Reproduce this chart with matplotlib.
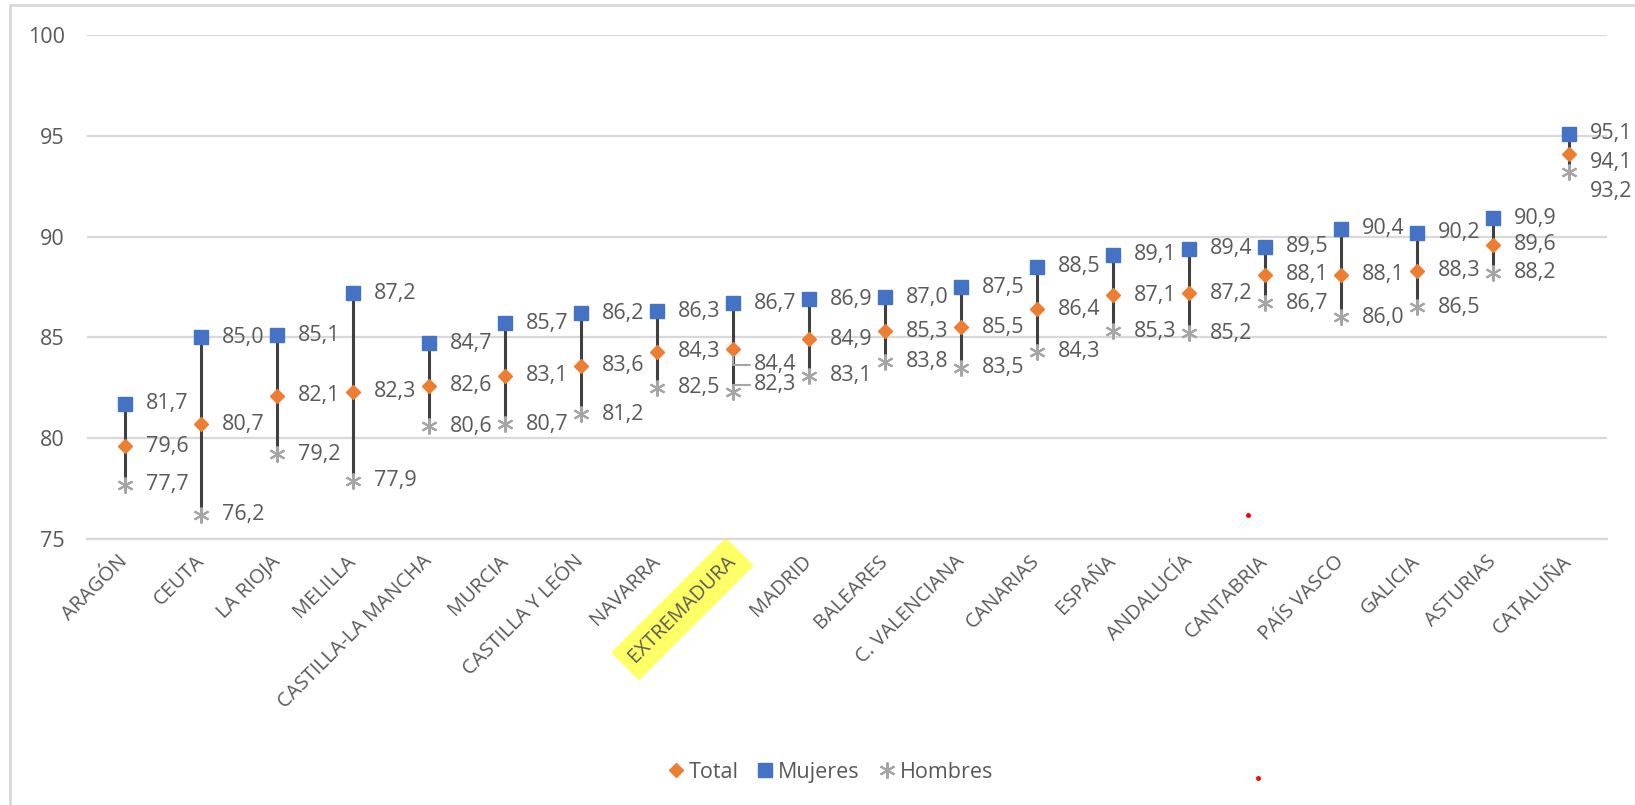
import numpy as np
import matplotlib
matplotlib.use('Agg')
from matplotlib import pyplot as plt
from matplotlib.patches import Rectangle
from matplotlib.lines import Line2D

# data
regiones = ['ARAGÓN', 'CEUTA', 'LA RIOJA', 'MELILLA', 'CASTILLA-LA MANCHA', 'MURCIA',
            'CASTILLA Y LEÓN', 'NAVARRA', 'EXTREMADURA', 'MADRID', 'BALEARES',
            'C. VALENCIANA', 'CANARIAS', 'ESPAÑA', 'ANDALUCÍA', 'CANTABRIA',
            'PAÍS VASCO', 'GALICIA', 'ASTURIAS', 'CATALUÑA']
mujeres = [81.7, 85.0, 85.1, 87.2, 84.7, 85.7, 86.2, 86.3, 86.7, 86.9, 87.0,
           87.5, 88.5, 89.1, 89.4, 89.5, 90.4, 90.2, 90.9, 95.1]
total = [79.6, 80.7, 82.1, 82.3, 82.6, 83.1, 83.6, 84.3, 84.4, 84.9, 85.3,
         85.5, 86.4, 87.1, 87.2, 88.1, 88.1, 88.3, 89.6, 94.1]
hombres = [77.7, 76.2, 79.2, 77.9, 80.6, 80.7, 81.2, 82.5, 82.3, 83.1, 83.8,
           83.5, 84.3, 85.3, 85.2, 86.7, 86.0, 86.5, 88.2, 93.2]

TXT = '#595959'
AZUL = '#4472C4'
NARANJA = '#ED7D31'
GRIS = '#A5A5A5'
FS = 15.5
AST = (6, 2, 0)  # asterisk marker

plt.rcParams['font.family'] = ['Open Sans', 'DejaVu Sans']

fig = plt.figure(figsize=(16.35, 8.05), dpi=100)
ax = fig.add_axes([87 / 1635, 1 - 539 / 805, 1520 / 1635, 504 / 805])

x = np.arange(len(regiones))

# high-low lines
ax.vlines(x, hombres, mujeres, color='#404040', lw=2.2, zorder=2)

ax.plot(x, total, ls='none', marker='D', ms=7.3, color=NARANJA, zorder=3, label='Total')
ax.plot(x, mujeres, ls='none', marker='s', ms=10, color=AZUL, zorder=3, label='Mujeres')
ax.plot(x, hombres, ls='none', marker=AST, ms=11.5, mew=1.5, color=GRIS, zorder=3,
        label='Hombres')

def fmt(v):
    return ('%.1f' % v).replace('.', ',')

# label nudges (points) where the labels were moved to avoid overlap
dy_total = {'CATALUÑA': -6, 'EXTREMADURA': -11}
dy_hombres = {'CATALUÑA': -14, 'EXTREMADURA': 5}
leader = {'EXTREMADURA'}

for i, reg in enumerate(regiones):
    ax.annotate(fmt(mujeres[i]), (x[i], mujeres[i]), xytext=(15, 0),
                textcoords='offset points', va='center', ha='left',
                fontsize=FS, color=TXT, zorder=4)
    for vals, dd in ((total, dy_total), (hombres, dy_hombres)):
        kw = {}
        if reg in leader:
            kw['arrowprops'] = dict(arrowstyle='-', color=GRIS, lw=1.5, relpos=(0, 0.5),
                                    shrinkA=1, shrinkB=5,
                                    connectionstyle='angle,angleA=0,angleB=90,rad=0')
        ax.annotate(fmt(vals[i]), (x[i], vals[i]), xytext=(15, dd.get(reg, 0)),
                    textcoords='offset points', va='center', ha='left',
                    fontsize=FS, color=TXT, zorder=4, **kw)

ax.set_xlim(-0.5, len(regiones) - 0.5)
ax.set_ylim(75, 100)
ax.set_yticks([75, 80, 85, 90, 95, 100])
ax.yaxis.grid(True, color='#D9D9D9', lw=1.6)
ax.set_axisbelow(True)
for s in ['top', 'right', 'left']:
    ax.spines[s].set_visible(False)
ax.spines['bottom'].set_color('#D9D9D9')
ax.spines['bottom'].set_linewidth(1.6)
ax.tick_params(axis='both', length=0, labelsize=FS, labelcolor=TXT)
ax.tick_params(axis='y', pad=16)
ax.tick_params(axis='x', pad=14)

ax.set_xticks(x)
ax.set_xticklabels(regiones, rotation=45, ha='right', va='center', rotation_mode='anchor',
                   fontsize=FS - 1)
for lab in ax.get_xticklabels():
    if lab.get_text() == 'EXTREMADURA':
        lab.set_bbox(dict(facecolor='#FFFF66', edgecolor='none', pad=7))

# legend
handles = [Line2D([], [], ls='none', marker='D', ms=7.3, color=NARANJA),
           Line2D([], [], ls='none', marker='s', ms=10, color=AZUL),
           Line2D([], [], ls='none', marker=AST, ms=11.5, mew=1.5, color=GRIS)]
fig.legend(handles, ['Total', 'Mujeres', 'Hombres'], loc='center',
           bbox_to_anchor=(829 / 1635, 1 - 772 / 805), ncol=3, frameon=False,
           fontsize=FS, labelcolor=TXT, handletextpad=0.1, columnspacing=0.75,
           handlelength=1.0)

# chart frame (left and top edges visible in the screenshot)
fig.patches.append(Rectangle((10 / 1635, -0.1), 1.2, 1 - 5 / 805 + 0.1,
                             transform=fig.transFigure, fill=False,
                             edgecolor='#D9D9D9', lw=2))

# two stray red dots in the screenshot
fig.add_artist(Line2D([1248 / 1635], [1 - 515 / 805], ls='none', marker='o', ms=2.5,
                      color='red', transform=fig.transFigure))
fig.add_artist(Line2D([1258 / 1635], [1 - 778 / 805], ls='none', marker='o', ms=2.5,
                      color='red', transform=fig.transFigure))

fig.savefig('out.png', dpi=100)
